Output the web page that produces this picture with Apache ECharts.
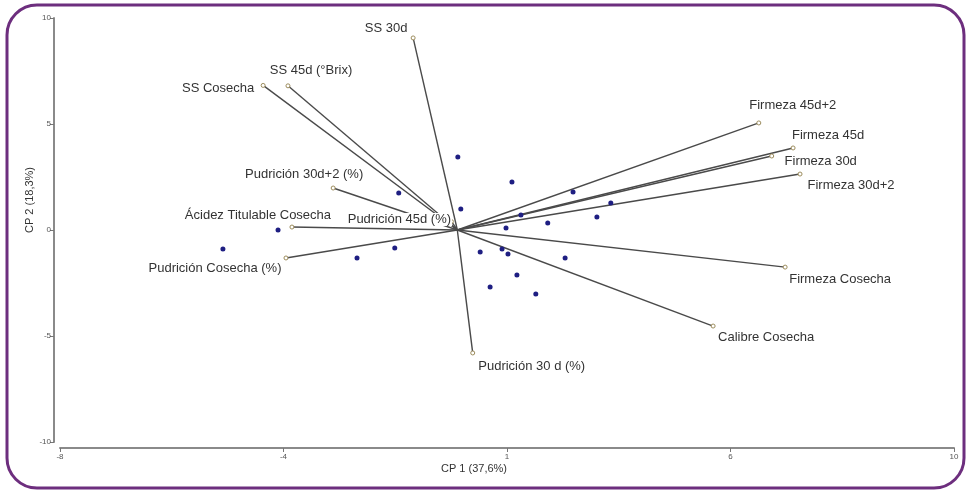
<!DOCTYPE html>
<html>
<head>
<meta charset="utf-8">
<script src="https://cdn.jsdelivr.net/npm/echarts@6/dist/echarts.min.js"></script>
<style>
html,body{margin:0;padding:0;background:#fff;}
#chart{width:970px;height:493px;}
</style>
</head>
<body>
<div id="chart"></div>
<script>
// ---- data ----
const varNames = [
  'SS 30d', 'SS 45d (°Brix)', 'SS Cosecha', 'Pudrición 30d+2 (%)',
  'Ácidez Titulable Cosecha', 'Pudrición 45d (%)', 'Pudrición Cosecha (%)',
  'Pudrición 30 d (%)', 'Calibre Cosecha', 'Firmeza Cosecha',
  'Firmeza 45d+2', 'Firmeza 45d', 'Firmeza 30d', 'Firmeza 30d+2'
];
const varX = [-0.89, -3.41, -3.91, -2.50, -3.33, -0.12, -3.45, 0.31, 5.15, 6.60, 6.07, 6.76, 6.33, 6.90];
const varY = [9.06, 6.80, 6.82, 1.98, 0.14, 0.40, -1.32, -5.80, -4.53, -1.75, 5.05, 3.87, 3.49, 2.64];

const obsX = [0.01, 1.10, -1.18, 2.33, 3.09, 0.07, 1.28, 2.81, 1.82, 0.98, -3.61, -4.72, -1.26, -2.02, 0.46, 0.90, 1.02, 2.17, 1.20, 0.66, 1.58];
const obsY = [3.44, 2.26, 1.75, 1.79, 1.27, 0.99, 0.71, 0.61, 0.33, 0.09, 0.00, -0.90, -0.85, -1.32, -1.04, -0.90, -1.13, -1.32, -2.12, -2.69, -3.02];

const xTitle = 'CP 1 (37,6%)';
const yTitle = 'CP 2 (18,3%)';
const xMin = -8, xMax = 10, xStep = 4.5;
const yMin = -10, yMax = 10, yStep = 5;

// ---- label placement (style, pixels relative to vector end) ----
const labelOffsets = [
  [-27, -10], [23, -15], [-45, 3], [-29, -14],
  [-34, -12], [-52, -2], [-71, 10],
  [59, 13], [53, 11], [55, 12],
  [34, -18], [35, -13], [49, 5], [51, 11]
];

const labelFont = { fontFamily: 'Liberation Sans, Arial, sans-serif', fontSize: 13, color: '#333' };

const series = [];
varNames.forEach((name, i) => {
  series.push({
    type: 'line',
    name: name,
    silent: true,
    animation: false,
    z: 2,
    lineStyle: { color: '#4a4a4a', width: 1.4 },
    itemStyle: { color: '#fff', borderColor: '#9c8c5c', borderWidth: 1 },
    symbolSize: 4,
    showAllSymbol: true,
    data: [
      { value: [0, 0], symbol: 'none' },
      {
        value: [varX[i], varY[i]], symbol: 'circle',
        label: Object.assign({
          show: true,
          formatter: name,
          position: 'inside',
          align: 'center',
          verticalAlign: 'middle',
          offset: labelOffsets[i],
          backgroundColor: '#fff',
          padding: [0, 1]
        }, labelFont)
      }
    ]
  });
});

series.push({
  type: 'scatter',
  name: 'obs',
  animation: false,
  z: 3,
  symbolSize: 5,
  itemStyle: { color: '#1e1e82', opacity: 1 },
  data: obsX.map((x, i) => [x, obsY[i]])
});

function roundLabel(v) {
  return v < 0 ? String(-Math.round(-v)) : String(Math.round(v));
}

const axisCommon = {
  axisLine: { show: true, onZero: false, lineStyle: { color: '#8a8a8a', width: 2 } },
  axisTick: { show: true, length: 4, lineStyle: { color: '#777', width: 1 } },
  axisLabel: { fontSize: 8, color: '#555', fontFamily: 'Liberation Sans, Arial, sans-serif', formatter: roundLabel },
  splitLine: { show: false }
};

const option = {
  backgroundColor: '#fff',
  animation: false,
  grid: { left: 60, right: 16, top: 18, bottom: 51, containLabel: false },
  xAxis: Object.assign({
    type: 'value', min: xMin, max: xMax, interval: xStep, offset: 6
  }, axisCommon, { axisLabel: Object.assign({}, axisCommon.axisLabel, { margin: 5 }) }),
  yAxis: Object.assign({
    type: 'value', min: yMin, max: yMax, interval: yStep, offset: 6
  }, axisCommon, { axisLabel: Object.assign({}, axisCommon.axisLabel, { margin: 3 }) }),
  graphic: [
    {
      type: 'rect', silent: true, z: 100,
      shape: { x: 7, y: 5, width: 957, height: 483, r: 30 },
      style: { fill: 'none', stroke: '#6d2e7e', lineWidth: 3 }
    },
    {
      type: 'text', silent: true,
      x: 474, y: 469,
      style: Object.assign({ text: xTitle, align: 'center', verticalAlign: 'middle' }, labelFont, { fontSize: 11, fill: '#333' })
    },
    {
      type: 'text', silent: true,
      x: 30, y: 200, rotation: Math.PI / 2,
      style: Object.assign({ text: yTitle, align: 'center', verticalAlign: 'middle' }, labelFont, { fontSize: 11, fill: '#333' })
    }
  ],
  series: series
};

const chart = echarts.init(document.getElementById('chart'), null, { renderer: 'canvas' });
chart.setOption(option);
</script>
</body>
</html>
